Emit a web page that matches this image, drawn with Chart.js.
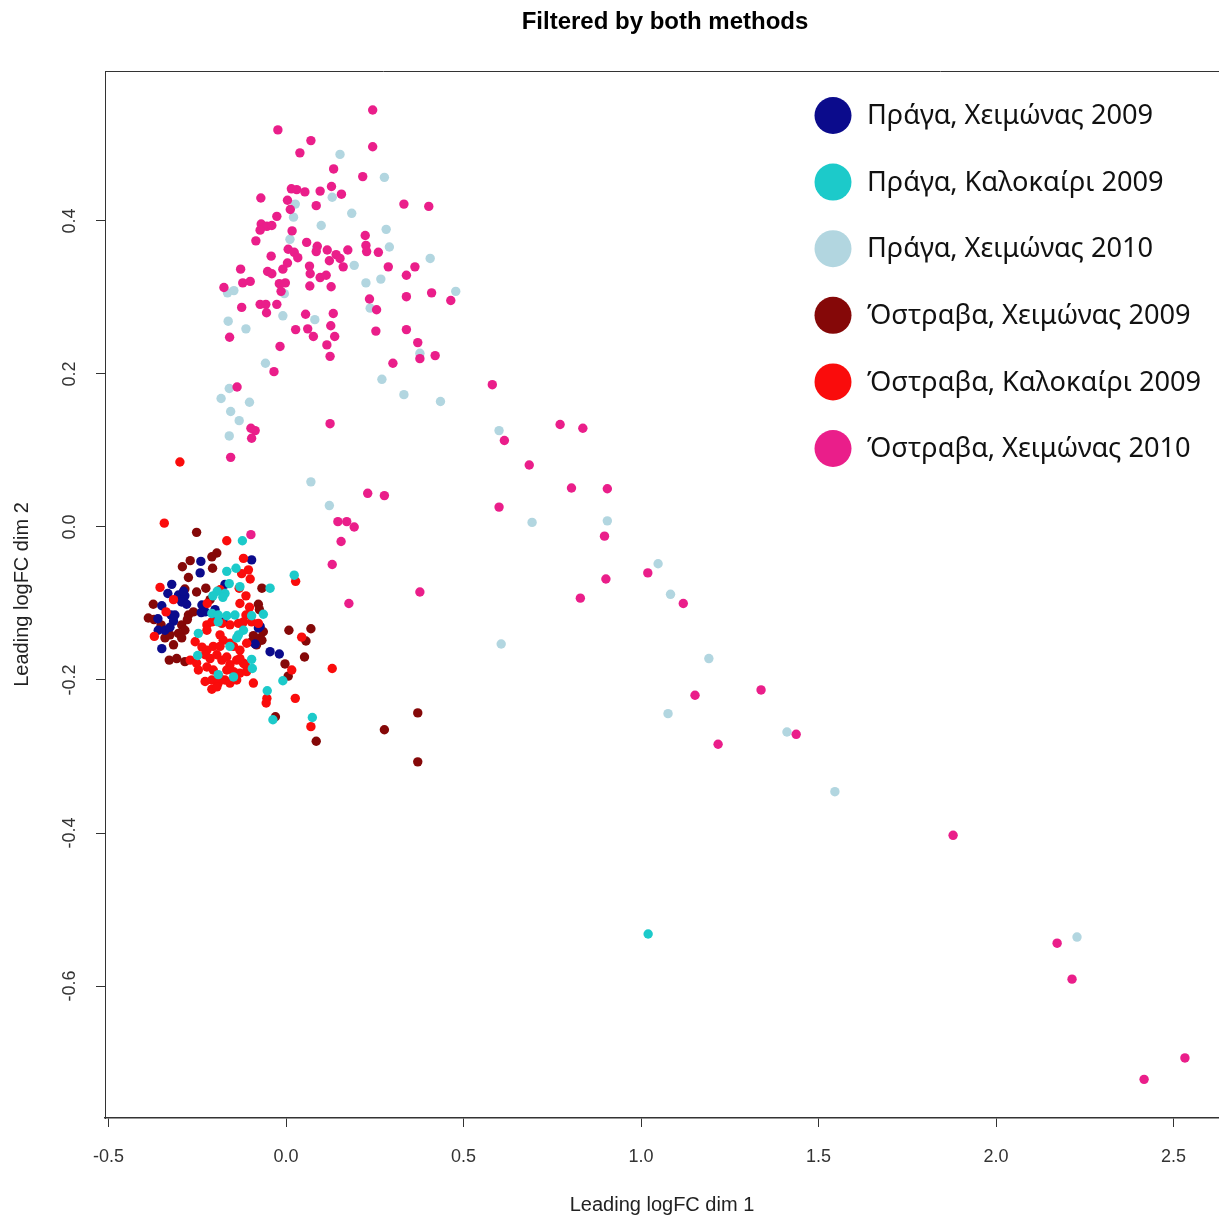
<!DOCTYPE html>
<html>
<head>
<meta charset="utf-8">
<title>Filtered by both methods</title>
<script src="https://cdn.jsdelivr.net/npm/chart.js@4.4.1/dist/chart.umd.min.js"></script>
<style>
  html, body { margin: 0; padding: 0; background: #ffffff; }
  #wrap { width: 1219px; height: 1218px; }
</style>
</head>
<body>
<div id="wrap"><canvas id="mds" width="1219" height="1218"></canvas></div>
<script>
// MDS coordinates (leading logFC dim 1, dim 2) per sample group
const pragueWinter2009 = [
  [-0.240,-0.045],[-0.242,-0.060],[-0.322,-0.075],[-0.303,-0.089],[-0.285,-0.090],[-0.333,-0.087],
  [-0.350,-0.103],[-0.294,-0.098],[-0.280,-0.101],[-0.237,-0.102],[-0.361,-0.120],[-0.324,-0.115],
  [-0.317,-0.123],[-0.239,-0.112],[-0.205,-0.113],[-0.360,-0.135],[-0.341,-0.135],[-0.350,-0.159],
  [-0.097,-0.043],[-0.172,-0.075],[-0.078,-0.132],[-0.087,-0.153],[-0.045,-0.163],[-0.019,-0.166],
  [-0.289,-0.084],[-0.327,-0.131],[-0.177,-0.124],[-0.228,-0.111],[-0.073,-0.130],[-0.313,-0.115],
  [-0.200,-0.108]
];
const pragueSummer2009 = [
  [-0.123,-0.018],[-0.167,-0.058],[-0.141,-0.054],[0.023,-0.063],[-0.194,-0.084],[-0.160,-0.074],
  [-0.172,-0.087],[-0.178,-0.092],[-0.206,-0.090],[-0.045,-0.080],[-0.130,-0.078],[-0.209,-0.113],
  [-0.191,-0.115],[-0.167,-0.116],[-0.144,-0.115],[-0.064,-0.114],[-0.097,-0.116],[-0.120,-0.135],
  [-0.134,-0.141],[-0.139,-0.145],[-0.247,-0.139],[-0.191,-0.124],[-0.249,-0.168],[-0.097,-0.173],
  [-0.095,-0.185],[-0.148,-0.196],[-0.191,-0.193],[-0.009,-0.201],[-0.053,-0.214],[-0.037,-0.252],
  [0.074,-0.249],[1.020,-0.532],[-0.158,-0.156]
];
const pragueWinter2010 = [
  [0.152,0.487],[0.277,0.457],[0.130,0.431],[0.026,0.422],[0.185,0.410],[0.021,0.405],
  [0.099,0.394],[0.282,0.389],[0.011,0.376],[0.086,0.364],[0.291,0.366],[0.192,0.342],
  [0.406,0.351],[0.225,0.319],[0.267,0.324],[-0.165,0.306],[-0.147,0.309],[-0.005,0.305],
  [0.478,0.308],[-0.009,0.276],[0.237,0.286],[-0.163,0.269],[-0.113,0.259],[0.081,0.271],
  [0.377,0.227],[-0.058,0.214],[0.270,0.193],[0.332,0.173],[0.435,0.164],[-0.160,0.181],
  [-0.183,0.168],[-0.103,0.163],[-0.156,0.151],[-0.132,0.139],[-0.160,0.119],[0.070,0.059],
  [0.122,0.028],[0.600,0.126],[0.693,0.006],[0.905,0.008],[1.048,-0.048],[1.083,-0.088],
  [0.606,-0.153],[1.191,-0.172],[1.076,-0.244],[1.411,-0.268],[1.546,-0.346],[2.228,-0.536]
];
const ostravaWinter2009 = [
  [-0.252,-0.007],[-0.195,-0.034],[-0.209,-0.039],[-0.292,-0.052],[-0.270,-0.044],[-0.207,-0.054],
  [-0.275,-0.066],[-0.285,-0.081],[-0.252,-0.085],[-0.226,-0.080],[-0.374,-0.101],[-0.388,-0.119],
  [-0.275,-0.115],[-0.261,-0.111],[-0.352,-0.128],[-0.372,-0.121],[-0.294,-0.128],[-0.285,-0.135],
  [-0.341,-0.145],[-0.327,-0.141],[-0.303,-0.139],[-0.294,-0.145],[-0.317,-0.154],[-0.329,-0.174],
  [-0.308,-0.172],[-0.285,-0.176],[-0.068,-0.080],[-0.078,-0.101],[-0.075,-0.108],[-0.064,-0.137],
  [-0.092,-0.142],[-0.073,-0.145],[-0.097,-0.150],[-0.083,-0.154],[-0.068,-0.148],[0.008,-0.135],
  [0.070,-0.133],[0.056,-0.149],[0.052,-0.170],[-0.003,-0.179],[0.006,-0.195],[-0.030,-0.248],
  [0.085,-0.280],[0.371,-0.243],[0.277,-0.265],[0.371,-0.307],[-0.278,-0.121],[-0.214,-0.095]
];
const ostravaSummer2009 = [
  [-0.343,0.005],[-0.299,0.085],[-0.167,-0.018],[-0.120,-0.041],[-0.106,-0.056],[-0.101,-0.068],
  [-0.125,-0.061],[0.027,-0.071],[-0.355,-0.079],[-0.132,-0.080],[-0.113,-0.090],[-0.130,-0.100],
  [-0.103,-0.105],[-0.338,-0.111],[-0.113,-0.115],[-0.223,-0.128],[-0.209,-0.124],[-0.158,-0.128],
  [-0.134,-0.126],[-0.120,-0.124],[-0.097,-0.124],[-0.078,-0.126],[-0.181,-0.126],[-0.371,-0.143],
  [-0.256,-0.150],[-0.223,-0.135],[-0.186,-0.141],[-0.177,-0.148],[-0.158,-0.152],[-0.111,-0.152],
  [-0.237,-0.157],[-0.223,-0.161],[-0.205,-0.156],[-0.186,-0.156],[-0.148,-0.156],[-0.130,-0.161],
  [0.044,-0.144],[-0.270,-0.174],[-0.252,-0.178],[-0.228,-0.167],[-0.214,-0.172],[-0.195,-0.167],
  [-0.181,-0.174],[-0.167,-0.170],[-0.139,-0.174],[-0.120,-0.178],[-0.115,-0.180],[-0.158,-0.180],
  [0.016,-0.187],[0.130,-0.185],[-0.247,-0.187],[-0.223,-0.183],[-0.205,-0.187],[-0.167,-0.187],
  [-0.148,-0.189],[-0.130,-0.191],[-0.111,-0.189],[-0.189,-0.196],[-0.228,-0.202],[-0.209,-0.200],
  [-0.191,-0.204],[-0.172,-0.200],[-0.158,-0.204],[-0.139,-0.200],[-0.209,-0.212],[-0.195,-0.209],
  [-0.092,-0.204],[-0.054,-0.224],[-0.056,-0.230],[0.026,-0.224],[0.070,-0.261],[-0.130,-0.172],
  [-0.222,-0.100],[-0.317,-0.095],[-0.186,-0.082]
];
const ostravaWinter2010 = [
  [0.244,0.545],[-0.023,0.519],[0.070,0.505],[0.244,0.497],[0.039,0.489],[0.134,0.468],
  [0.216,0.458],[0.015,0.442],[0.030,0.441],[0.053,0.438],[0.096,0.439],[0.128,0.445],
  [0.156,0.435],[-0.071,0.430],[0.004,0.427],[0.085,0.420],[0.012,0.415],[0.332,0.422],
  [0.402,0.419],[-0.026,0.406],[-0.070,0.396],[-0.054,0.393],[-0.040,0.394],[-0.073,0.388],
  [0.017,0.387],[0.223,0.381],[-0.085,0.374],[0.058,0.372],[0.088,0.367],[0.085,0.360],
  [0.116,0.362],[0.174,0.362],[0.225,0.368],[0.227,0.360],[0.260,0.359],[0.006,0.363],
  [0.023,0.359],[0.033,0.352],[-0.042,0.354],[0.122,0.348],[0.141,0.356],[0.152,0.351],
  [0.161,0.340],[0.288,0.340],[0.363,0.340],[-0.128,0.337],[-0.009,0.337],[0.004,0.345],
  [-0.052,0.334],[-0.040,0.331],[0.066,0.341],[0.068,0.331],[0.096,0.326],[0.113,0.329],
  [0.339,0.329],[-0.122,0.319],[-0.101,0.321],[-0.019,0.318],[-0.002,0.319],[-0.014,0.308],
  [0.067,0.315],[0.127,0.314],[-0.175,0.313],[0.339,0.301],[0.410,0.306],[0.464,0.296],
  [0.235,0.298],[-0.125,0.287],[-0.073,0.291],[-0.057,0.291],[-0.055,0.280],[-0.026,0.291],
  [0.055,0.278],[0.133,0.279],[0.255,0.284],[0.027,0.258],[0.061,0.259],[0.077,0.249],
  [0.126,0.263],[0.137,0.249],[0.253,0.256],[0.339,0.258],[-0.159,0.248],[-0.017,0.236],
  [0.115,0.238],[0.124,0.223],[0.371,0.241],[0.377,0.220],[0.420,0.224],[0.301,0.214],
  [-0.034,0.203],[-0.138,0.183],[-0.099,0.129],[-0.087,0.126],[-0.097,0.116],[-0.156,0.091],
  [0.124,0.135],[0.581,0.186],[0.772,0.134],[0.836,0.129],[0.615,0.113],[0.685,0.081],
  [0.804,0.051],[0.905,0.050],[0.600,0.026],[0.897,-0.012],[1.019,-0.060],[1.119,-0.100],
  [0.901,-0.068],[0.829,-0.093],[0.230,0.044],[0.277,0.041],[0.146,0.007],[0.171,0.007],
  [0.192,0.000],[0.155,-0.019],[0.130,-0.049],[0.377,-0.085],[0.177,-0.100],[-0.099,-0.010],
  [1.152,-0.220],[1.338,-0.213],[1.217,-0.284],[1.437,-0.271],[1.879,-0.403],[2.172,-0.544],
  [2.214,-0.591],[2.417,-0.722],[2.532,-0.694]
];

const groupLabels = [
  'Πράγα, Χειμώνας 2009', 'Πράγα, Καλοκαίρι 2009', 'Πράγα, Χειμώνας 2010',
  'Όστραβα, Χειμώνας 2009', 'Όστραβα, Καλοκαίρι 2009', 'Όστραβα, Χειμώνας 2010'
];
const groupColors = ['#0b0b8c', '#1ccaca', '#b2d6e0', '#850808', '#fa0c0c', '#ea1e8a'];
// stacking order: larger numbers are painted first (underneath)
const groupOrder = [4, 2, 6, 5, 3, 1];
const groupData = [pragueWinter2009, pragueSummer2009, pragueWinter2010,
                   ostravaWinter2009, ostravaSummer2009, ostravaWinter2010];

const xTicks = [-0.5, 0.0, 0.5, 1.0, 1.5, 2.0, 2.5];
const yTicks = [-0.6, -0.4, -0.2, 0.0, 0.2, 0.4];
const xRange = [-0.51, 2.628];
const yRange = [-0.7725, 0.596];
const chartTitle = 'Filtered by both methods';

const axisFont = "'Liberation Sans', Arial, sans-serif";
const legendFont = "'Noto Sans', 'DejaVu Sans', sans-serif";

// main title, centred over the full plotting region
const mainTitle = {
  id: 'mainTitle',
  afterDraw(chart) {
    const {ctx} = chart;
    ctx.save();
    ctx.fillStyle = '#000';
    ctx.font = 'bold 24px ' + axisFont;
    ctx.textAlign = 'center';
    ctx.textBaseline = 'middle';
    ctx.fillText(chartTitle, 665, 22);
    ctx.restore();
  }
};

// rotated tick labels on the left axis, R style
const verticalTickLabels = {
  id: 'verticalTickLabels',
  afterDraw(chart) {
    const {ctx, scales: {y}} = chart;
    ctx.save();
    ctx.fillStyle = '#333';
    ctx.font = '18px ' + axisFont;
    ctx.textAlign = 'center';
    ctx.textBaseline = 'middle';
    yTicks.forEach(v => {
      const py = y.getPixelForValue(v);
      ctx.save();
      ctx.translate(70, py);
      ctx.rotate(-Math.PI / 2);
      ctx.fillText(v.toFixed(1), 0, 0);
      ctx.restore();
    });
    ctx.restore();
  }
};

// top edge of the plot box
const boxTop = {
  id: 'boxTop',
  afterDraw(chart) {
    const {ctx, chartArea: a} = chart;
    ctx.save();
    ctx.strokeStyle = '#333';
    ctx.lineWidth = 1;
    ctx.beginPath();
    ctx.moveTo(a.left, a.top + 0.5);
    ctx.lineTo(a.right, a.top + 0.5);
    ctx.stroke();
    ctx.restore();
  }
};

// legend with large filled circles in the upper right corner
const bigLegend = {
  id: 'bigLegend',
  afterDraw(chart) {
    const {ctx, chartArea: a} = chart;
    ctx.save();
    ctx.font = '27.2px ' + legendFont;
    ctx.textAlign = 'left';
    ctx.textBaseline = 'middle';
    chart.data.datasets.forEach((ds, i) => {
      const cy = a.top + 44.5 + i * 66.6;
      ctx.fillStyle = ds.backgroundColor;
      ctx.beginPath();
      ctx.arc(833, cy, 18.5, 0, Math.PI * 2);
      ctx.fill();
      ctx.fillStyle = '#111';
      ctx.fillText(ds.label, 867, cy + 1);
    });
    ctx.restore();
  }
};

new Chart(document.getElementById('mds'), {
  type: 'scatter',
  data: {
    datasets: groupData.map((pts, i) => ({
      label: groupLabels[i],
      data: pts.map(p => ({x: p[0], y: p[1]})),
      backgroundColor: groupColors[i],
      borderWidth: 0,
      pointRadius: 4.7,
      pointHoverRadius: 4.7,
      order: groupOrder[i]
    }))
  },
  options: {
    responsive: false,
    animation: false,
    devicePixelRatio: 1,
    layout: { autoPadding: false, padding: { top: 71, left: 0, right: 0, bottom: 0 } },
    plugins: {
      legend: { display: false },
      tooltip: { enabled: false },
      title: { display: false }
    },
    scales: {
      x: {
        type: 'linear',
        min: xRange[0],
        max: xRange[1],
        afterBuildTicks: s => { s.ticks = xTicks.map(v => ({value: v})); },
        afterFit: s => { s.height = 100; s.paddingLeft = 0; s.paddingRight = 0; },
        border: { display: true, color: '#333', width: 1.5 },
        grid: { drawOnChartArea: false, drawTicks: true, tickLength: 9, color: '#333', tickWidth: 1 },
        ticks: {
          color: '#333',
          font: { family: axisFont, size: 18 },
          padding: 19,
          maxRotation: 0,
          callback: v => Number(v).toFixed(1)
        },
        title: {
          display: true,
          text: 'Leading logFC dim 1',
          color: '#222',
          font: { family: axisFont, size: 20 },
          padding: { top: 0, bottom: 1 }
        }
      },
      y: {
        type: 'linear',
        min: yRange[0],
        max: yRange[1],
        afterBuildTicks: s => { s.ticks = yTicks.map(v => ({value: v})); },
        afterFit: s => { s.width = 105; s.paddingTop = 0; s.paddingBottom = 0; },
        border: { display: true, color: '#333', width: 1 },
        grid: { drawOnChartArea: false, drawTicks: true, tickLength: 9, color: '#333', tickWidth: 1 },
        ticks: { display: false },
        title: {
          display: true,
          text: 'Leading logFC dim 2',
          color: '#222',
          font: { family: axisFont, size: 20 },
          padding: { top: 10, bottom: 0 }
        }
      }
    }
  },
  plugins: [mainTitle, verticalTickLabels, boxTop, bigLegend]
});
</script>
</body>
</html>
